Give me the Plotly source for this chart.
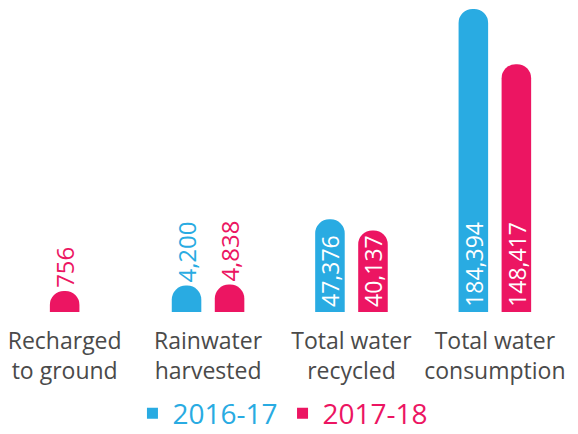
import plotly.graph_objects as go

# ---- data ----
categories = ["Recharged<br>to ground", "Rainwater<br>harvested",
              "Total water<br>recycled", "Total water<br>consumption"]
series_names = ["2016-17", "2017-18"]
values_2016 = [None, 4200, 47376, 184394]
values_2017 = [756, 4838, 40137, 148417]

# ---- style ----
BLUE = "#29abe2"
PINK = "#ec1562"
GREY = "#4a4a4a"
FONT = "Open Sans"
PAD = 13000         # visual padding added under each bar so the round caps stay visible
BAR_W = 0.206       # in category units
GAP = 0.094
OUTSIDE_BELOW = 10000


def fmt(v):
    return "" if v is None else f"{v:,}"


def padded(vals):
    return [None if v is None else v + PAD for v in vals]


def is_outside(v):
    return v is not None and v < OUTSIDE_BELOW


# blue sits left of centre, pink right; a lone bar is centred
off_blue = [-(GAP / 2 + BAR_W)] * len(categories)
off_pink = [(-BAR_W / 2 if b is None else GAP / 2) for b in values_2016]

fig = go.Figure()
annotations = []
for name, vals, col, offs in [(series_names[0], values_2016, BLUE, off_blue),
                              (series_names[1], values_2017, PINK, off_pink)]:
    fig.add_trace(go.Bar(
        x=categories, y=padded(vals),
        width=[BAR_W] * len(categories), offset=offs,
        marker=dict(color=col, line=dict(width=0), cornerradius="50%"),
        text=[fmt(v) if is_outside(v) else "" for v in vals], textangle=-90,
        textposition=["outside" if is_outside(v) else "none" for v in vals],
        outsidetextfont=dict(color=col, size=24, family=FONT),
        constraintext="none", cliponaxis=False,
        customdata=[fmt(v) for v in vals],
        hovertemplate="%{x}: %{customdata}<extra>" + name + "</extra>",
        showlegend=False,
    ))
    fig.add_trace(go.Scatter(
        x=[None], y=[None], mode="markers",
        marker=dict(symbol="square", size=11, color=col),
        name=f'<span style="color:{col}">{name}</span>',
        showlegend=True,
    ))
    # value labels written inside the taller bars, reading upward from the base
    for i, v in enumerate(vals):
        if v is None or is_outside(v):
            continue
        annotations.append(dict(
            x=i + offs[i] + BAR_W / 2, y=0, xref="x", yref="y",
            text=fmt(v), textangle=-90, showarrow=False,
            xanchor="center", yanchor="bottom", yshift=5,
            borderpad=0, borderwidth=0,
            font=dict(color="white", size=23, family=FONT),
        ))

all_vals = [v for v in values_2016 + values_2017 if v is not None]

fig.update_layout(
    width=570, height=434,
    margin=dict(l=0, r=10, t=1, b=130, pad=0),
    paper_bgcolor="white", plot_bgcolor="white",
    barmode="overlay",
    font=dict(family=FONT, color=GREY),
    xaxis=dict(type="category", range=[-0.395, 3.51], showgrid=False,
               showline=False, zeroline=False, ticks="", automargin=False,
               ticklabelstandoff=13,
               tickfont=dict(size=23, color=GREY, family=FONT)),
    yaxis=dict(visible=False, range=[0, max(all_vals) + PAD]),
    legend=dict(orientation="h", x=0.491, xanchor="center", y=-0.335,
                yanchor="middle", font=dict(size=28, family=FONT),
                itemwidth=30, bgcolor="rgba(0,0,0,0)"),
    annotations=annotations,
)

fig.write_html("out.html")
